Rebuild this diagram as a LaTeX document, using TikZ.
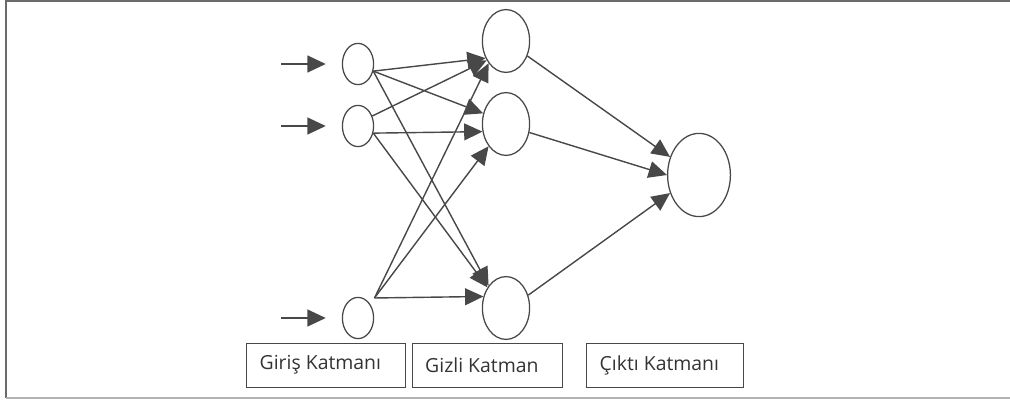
\documentclass[tikz,border=0pt]{standalone}
\usepackage{fontspec}
\setmainfont{Open Sans}
\usetikzlibrary{shapes.geometric,arrows.meta}
\definecolor{linec}{HTML}{484848}
\definecolor{framec}{HTML}{6A6A6A}
\tikzset{
  inn/.style={ellipse,draw=linec,line width=0.9pt,inner sep=0pt,minimum width=0.78cm,minimum height=1.03cm},
  hid/.style={ellipse,draw=linec,line width=0.9pt,inner sep=0pt,minimum width=1.18cm,minimum height=1.57cm},
  outn/.style={ellipse,draw=linec,line width=0.9pt,inner sep=0pt,minimum width=1.57cm,minimum height=2.08cm},
  lbox/.style={draw=linec,line width=0.7pt,minimum height=1.1cm,text=black!80,font=\fontsize{13.8}{16}\selectfont},
  conn/.style={draw=linec,line width=1pt,-{Triangle[length=13pt,width=12pt]}}
}
\begin{document}
\begin{tikzpicture}[x=0.025cm,y=-0.025cm]
\useasboundingbox (0,0) rectangle (1010,400);
\draw[framec,line width=1.2pt] (1010,1) -- (6,1) -- (6,398);
\draw[black!30,line width=1.2pt] (6,398) -- (1010,398);

\node[inn] (i1) at (358,64) {};
\node[inn] (i2) at (358,126) {};
\node[inn] (i3) at (358,318) {};
\node[hid] (h1) at (506,41) {};
\node[hid] (h2) at (506,124) {};
\node[hid] (h3) at (506,308) {};
\node[outn] (o) at (699,175) {};

\coordinate (a1) at (281,64);
\coordinate (a2) at (281,126);
\coordinate (a3) at (281,318);
\foreach \k in {1,2,3}
  \draw[conn,shorten >=0.4cm] (a\k) -- (i\k.west);

\draw[conn] (i1.-25) -- (h1.220);
\draw[conn] (i1.-25) -- (h2.155);
\draw[conn] (i1.-25) -- (h3.128);
\draw[conn] (i2.35) -- (h1.225);
\draw[conn] (i2.-25) -- (h2.198);
\draw[conn] (i2.-25) -- (h3.132);
\draw[conn] ([shift={(5,-5)}]i3.north east) -- (h1.232);
\draw[conn] ([shift={(5,-5)}]i3.north east) -- (h2.232);
\draw[conn] ([shift={(5,-5)}]i3.north east) -- (h3.153);

\draw[conn] (h1.-35) -- (o.148);
\draw[conn] (h2.-20) -- (o.180);
\draw[conn] (h3.30) -- (o.212);

\node[lbox,minimum width=3.95cm] (lgiris) at (326,365) {Giriş Katmanı\hspace*{8pt}};
\node[lbox,minimum width=3.725cm] (lgizli) at (487.5,365) {Gizli Katman\hspace*{8pt}};
\node[lbox,minimum width=3.9cm] (lcikti) at (665,365) {Çıktı Katmanı\hspace*{8pt}};
\end{tikzpicture}
\end{document}
